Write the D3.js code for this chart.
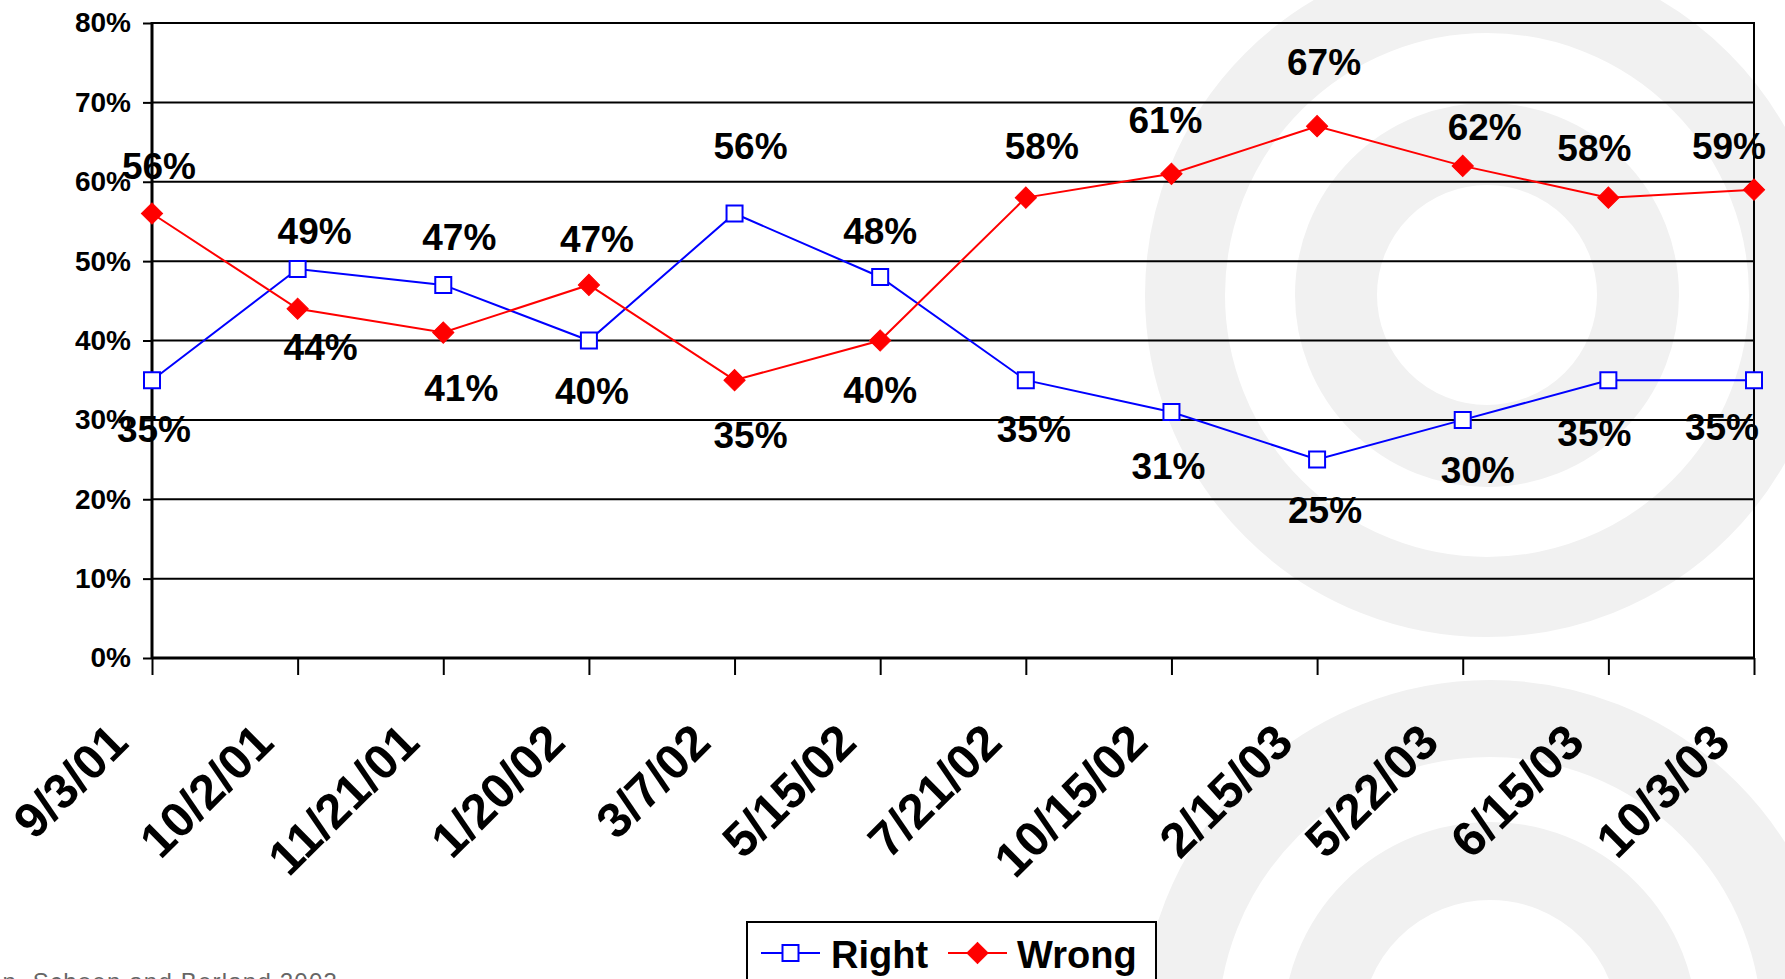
<!DOCTYPE html>
<html>
<head>
<meta charset="utf-8">
<script src="https://cdn.jsdelivr.net/npm/d3@7"></script>
<style>
  html, body { margin: 0; padding: 0; background: #fff; overflow: hidden; }
  svg { display: block; }
  text { font-family: "Liberation Sans", Arial, Helvetica, sans-serif; }
</style>
</head>
<body>
<svg id="chart" width="1785" height="979"></svg>
<script>
// ---- data ----
const dates = ["9/3/01","10/2/01","11/21/01","1/20/02","3/7/02","5/15/02","7/21/02","10/15/02","2/15/03","5/22/03","6/15/03","10/3/03"];
const rightValues = [35, 49, 47, 40, 56, 48, 35, 31, 25, 30, 35, 35];
const wrongValues = [56, 44, 41, 47, 35, 40, 58, 61, 67, 62, 58, 59];
const yTickValues = [0, 10, 20, 30, 40, 50, 60, 70, 80];
const seriesNames = ["Right", "Wrong"];
const sourceNote = "Penn, Schoen and Berland 2003";

// ---- layout (label nudges, px from the point to the label centre) ----
const rightLabelNudge = [[2,48],[17,-38],[16,-48],[3,50],[16,-68],[0,-46],[8,48],[-3,54],[8,50],[15,50],[-14,52],[-32,46]];
const wrongLabelNudge = [[7,-48],[23,38],[18,55],[8,-46],[16,54],[0,49],[16,-52],[-6,-54],[7,-65],[22,-39],[-14,-50],[-25,-44]];

(function () {
const svg = d3.select("#chart");
const pLeft = 152, pRight = 1754, pTop = 23, pBottom = 658;

const x = d3.scalePoint().domain(dates).range([pLeft, pRight]).padding(0);
const y = d3.scaleLinear().domain([0, 80]).range([pBottom, pTop]);

// ---- background watermark rings ----
const bg = svg.append("g").attr("fill", "none").attr("stroke", "#f1f1f1");
const rings = [
  { cx: 1487, cy: 295, bands: [[110, 192], [262, 342]] },
  { cx: 1490, cy: 1029, bands: [[129, 207], [272, 349]] }
];
rings.forEach(r => {
  r.bands.forEach(b => {
    bg.append("circle")
      .attr("cx", r.cx).attr("cy", r.cy)
      .attr("r", (b[0] + b[1]) / 2)
      .attr("stroke-width", b[1] - b[0]);
  });
});

// ---- gridlines ----
svg.append("g")
  .selectAll("line")
  .data(yTickValues.filter(v => v > 0))
  .join("line")
  .attr("x1", pLeft).attr("x2", pRight)
  .attr("y1", d => y(d)).attr("y2", d => y(d))
  .attr("stroke", "#000").attr("stroke-width", 2);

// ---- y axis ----
const yAxis = svg.append("g")
  .attr("transform", `translate(${pLeft},0)`)
  .call(d3.axisLeft(y).tickValues(yTickValues).tickSize(9).tickPadding(12).tickFormat(d => d + "%"));
yAxis.select(".domain").remove();
yAxis.selectAll(".tick line").attr("stroke", "#000").attr("stroke-width", 2);
yAxis.selectAll(".tick text")
  .attr("font-size", 28).attr("font-weight", "bold").attr("fill", "#000")
  .attr("font-family", "'Liberation Sans', Arial, sans-serif");

// ---- x axis ----
const xAxis = svg.append("g")
  .attr("transform", `translate(0,${pBottom})`)
  .call(d3.axisBottom(x).tickSize(17).tickPadding(0));
xAxis.select(".domain").remove();
xAxis.selectAll(".tick line").attr("stroke", "#000").attr("stroke-width", 2);
xAxis.selectAll(".tick text")
  .attr("x", 0).attr("y", 0).attr("dy", 0)
  .attr("text-anchor", "end")
  .attr("transform", "translate(-22,87) rotate(-45)")
  .attr("font-size", 49).attr("font-weight", "bold").attr("fill", "#000")
  .attr("font-family", "'Liberation Sans', Arial, sans-serif");

// axis frame lines
svg.append("line").attr("x1", pLeft).attr("x2", pRight).attr("y1", pBottom).attr("y2", pBottom)
  .attr("stroke", "#000").attr("stroke-width", 3);
svg.append("line").attr("x1", pLeft).attr("x2", pLeft).attr("y1", pTop - 1).attr("y2", pBottom)
  .attr("stroke", "#000").attr("stroke-width", 3);
svg.append("line").attr("x1", pRight).attr("x2", pRight).attr("y1", pTop - 1).attr("y2", pBottom)
  .attr("stroke", "#000").attr("stroke-width", 2);

// ---- series ----
const line = d3.line().x((d, i) => x(dates[i])).y(d => y(d));

const series = [
  { name: seriesNames[0], values: rightValues, color: "#0000ff", nudge: rightLabelNudge, marker: "square" },
  { name: seriesNames[1], values: wrongValues, color: "#ff0000", nudge: wrongLabelNudge, marker: "diamond" }
];

const squarePath = d3.symbol().type(d3.symbolSquare).size(256)();
const diamondPath = d3.symbol().type(d3.symbolSquare).size(225)();

function drawMarker(g, kind, color) {
  if (kind === "square") {
    g.append("path").attr("d", squarePath)
      .attr("fill", "#fff").attr("stroke", color).attr("stroke-width", 2);
  } else {
    g.append("path").attr("d", diamondPath).attr("transform", "rotate(45)")
      .attr("fill", color).attr("stroke", color).attr("stroke-width", 1);
  }
}

series.forEach(s => {
  svg.append("path").datum(s.values)
    .attr("d", line)
    .attr("fill", "none").attr("stroke", s.color).attr("stroke-width", 2);
});

series.forEach(s => {
  s.values.forEach((v, i) => {
    const g = svg.append("g").attr("transform", `translate(${x(dates[i])},${y(v)})`);
    drawMarker(g, s.marker, s.color);
  });
});

// ---- data labels ----
series.forEach(s => {
  svg.append("g").selectAll("text")
    .data(s.values)
    .join("text")
    .attr("x", (d, i) => x(dates[i]) + s.nudge[i][0])
    .attr("y", (d, i) => y(d) + s.nudge[i][1])
    .attr("dy", "0.36em")
    .attr("text-anchor", "middle")
    .attr("font-size", 37).attr("font-weight", "bold").attr("fill", "#000")
    .text(d => d + "%");
});

// ---- legend ----
const legend = svg.append("g");
legend.append("rect")
  .attr("x", 747).attr("y", 922).attr("width", 409).attr("height", 90)
  .attr("fill", "#fff").attr("stroke", "#000").attr("stroke-width", 2);
const legendItems = [
  { s: series[0], x0: 761, tx: 831 },
  { s: series[1], x0: 948, tx: 1017 }
];
legendItems.forEach(it => {
  legend.append("line")
    .attr("x1", it.x0).attr("x2", it.x0 + 59).attr("y1", 953).attr("y2", 953)
    .attr("stroke", it.s.color).attr("stroke-width", 2);
  const g = legend.append("g").attr("transform", `translate(${it.x0 + 29.5},953)`);
  drawMarker(g, it.s.marker, it.s.color);
  legend.append("text")
    .attr("x", it.tx).attr("y", 968)
    .attr("font-size", 38).attr("font-weight", "bold").attr("fill", "#000")
    .text(it.s.name);
});

// ---- source note (cut at the bottom edge) ----
svg.append("text")
  .attr("x", 338).attr("y", 990)
  .attr("text-anchor", "end")
  .attr("font-size", 24).attr("fill", "#666")
  .attr("letter-spacing", 1.2)
  .text(sourceNote);
})();
</script>
</body>
</html>
